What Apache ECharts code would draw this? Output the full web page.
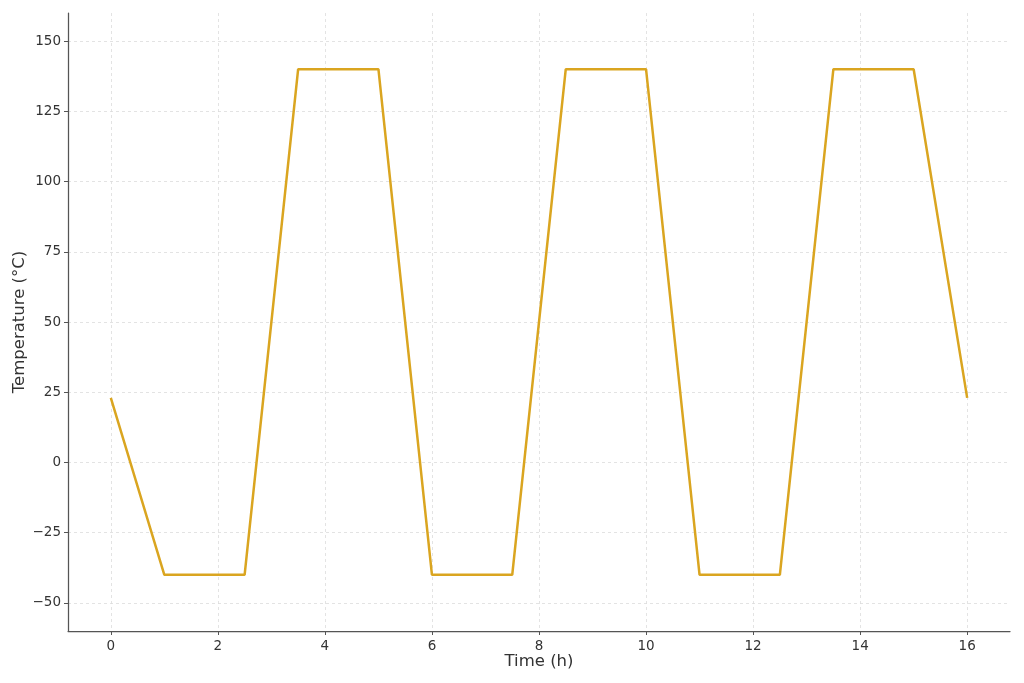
<!DOCTYPE html>
<html>
<head>
<meta charset="utf-8">
<script src="https://cdn.jsdelivr.net/npm/echarts@6/dist/echarts.min.js"></script>
<style>html,body{margin:0;padding:0;background:#fff}#c{width:1024px;height:683px}</style>
</head>
<body>
<div id="c"></div>
<script>
const timeH = [0, 1, 2.5, 3.5, 5, 6, 7.5, 8.5, 10, 11, 12.5, 13.5, 15, 16];
const tempC = [23, -40, -40, 140, 140, -40, -40, 140, 140, -40, -40, 140, 140, 23];
const xTicks = [0, 2, 4, 6, 8, 10, 12, 14, 16];
const yTicks = [-50, -25, 0, 25, 50, 75, 100, 125, 150];

const font = 'DejaVu Sans';
const chart = echarts.init(document.getElementById('c'), null, {renderer: 'canvas'});
const fmt = v => String(v).replace('-', '\u2212');
const axisCommon = {
  axisLine: {show: true, onZero: false, lineStyle: {color: '#555', width: 1.25}},
  axisTick: {show: true, inside: false, length: 4, lineStyle: {color: '#555', width: 1}},
  axisLabel: {color: '#333', fontFamily: font, fontSize: 13.5, formatter: fmt},
  splitLine: {show: true, lineStyle: {color: '#dcdcdc', type: [3, 3], width: 0.8}},
  nameTextStyle: {color: '#333', fontFamily: font, fontSize: 16.5},
  nameMoveOverlap: false
};
chart.setOption({
  animation: false,
  grid: {left: 68, right: 14, top: 13, bottom: 52, containLabel: false, outerBoundsMode: 'none'},
  xAxis: Object.assign({}, axisCommon, {
    type: 'value', min: -0.8, max: 16.8,
    name: 'Time (h)', nameLocation: 'middle', nameGap: 22,
    axisTick: Object.assign({}, axisCommon.axisTick, {customValues: xTicks}),
    axisLabel: Object.assign({}, axisCommon.axisLabel, {customValues: xTicks, margin: 8})
  }),
  yAxis: Object.assign({}, axisCommon, {
    type: 'value', min: -60, max: 160,
    name: 'Temperature (°C)', nameLocation: 'middle', nameGap: 40,
    axisTick: Object.assign({}, axisCommon.axisTick, {customValues: yTicks}),
    axisLabel: Object.assign({}, axisCommon.axisLabel, {customValues: yTicks, margin: 7})
  }),
  series: [{
    type: 'line',
    data: timeH.map((t, i) => [t, tempC[i]]),
    showSymbol: false,
    symbol: 'none',
    lineStyle: {color: '#DAA520', width: 2.5},
    itemStyle: {color: '#DAA520'}
  }]
});
</script>
</body>
</html>
